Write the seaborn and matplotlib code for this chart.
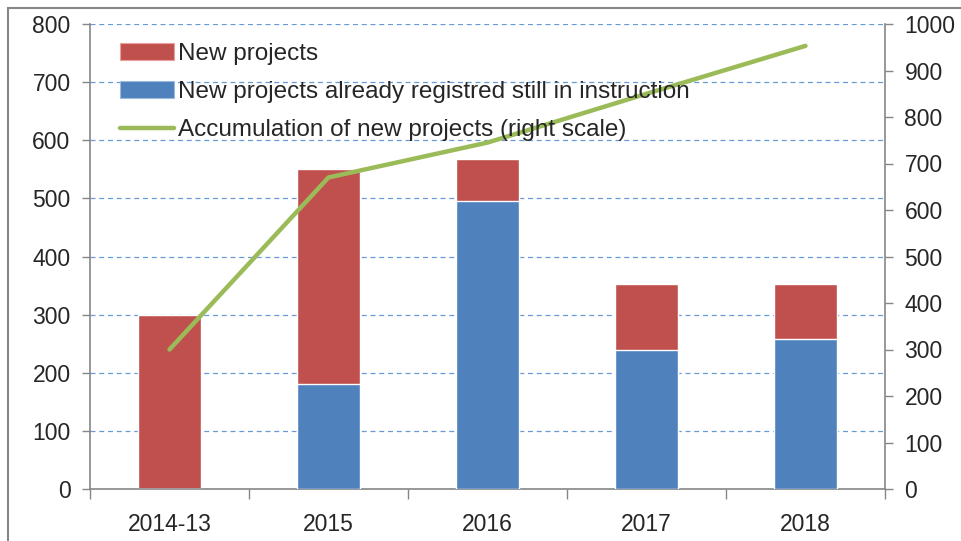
import numpy as np
import pandas as pd
import matplotlib
matplotlib.use("Agg")
import matplotlib.pyplot as plt
from matplotlib.patches import Rectangle, Patch
from matplotlib.lines import Line2D
import seaborn as sns

# ---------------------------
# Data
# ---------------------------
years = ["2014-13", "2015", "2016", "2017", "2018"]
registered = [0, 180, 495, 240, 258]          # blue, bottom part
total_new = [300, 550, 568, 352, 352]         # red top = total bar height
accumulation = [300, 670, 745, 850, 953]      # right scale

RED = "#C0504D"
BLUE = "#4F81BD"
GREEN = "#9BBB59"
GRAY = "#868686"

sns.set_style("white")
plt.rcParams["font.family"] = ["Liberation Sans", "DejaVu Sans"]

df = pd.DataFrame({"year": years, "registered": registered, "total": total_new})

fig = plt.figure(figsize=(9.61, 5.41), dpi=100)
ax1 = fig.add_axes([90 / 961, 1 - 489 / 541, (885 - 90) / 961, (489 - 24) / 541])

# stacked bars: full height in red, blue part drawn on top of it
sns.barplot(data=df, x="year", y="total", color=RED, width=0.4,
            saturation=1, ax=ax1, zorder=2)
sns.barplot(data=df, x="year", y="registered", color=BLUE, width=0.4,
            saturation=1, ax=ax1, zorder=3)

ax1.set_ylim(0, 800)
ax1.set_xlim(-0.5, len(years) - 0.5)
ax1.set_yticks(range(0, 801, 100))
ax1.set_xlabel("")
ax1.set_ylabel("")
ax1.yaxis.grid(True, color="#6A9AD6", linestyle=(0, (4, 3)), linewidth=0.9)
ax1.set_axisbelow(True)

# category boundary ticks, labels in between
ax1.set_xticks(np.arange(-0.5, len(years), 1.0), minor=False)
ax1.set_xticklabels([])
ax1.set_xticks(range(len(years)), minor=True)
ax1.set_xticklabels(years, minor=True, fontsize=16.5, color="#262626")
ax1.tick_params(axis="x", which="major", direction="out", length=7,
                color=GRAY, width=1, bottom=True)
ax1.tick_params(axis="x", which="minor", length=0, pad=17)
ax1.tick_params(axis="y", direction="out", length=6, color=GRAY,
                width=1, labelsize=16.5, labelcolor="#262626", left=True, pad=8)

for s in ["top", "right"]:
    ax1.spines[s].set_visible(False)
for s in ["left", "bottom"]:
    ax1.spines[s].set_color(GRAY)
    ax1.spines[s].set_linewidth(1.2)

# cumulated line on right scale
ax2 = ax1.twinx()
sns.lineplot(x=np.arange(len(years)), y=accumulation, color=GREEN,
             linewidth=3.2, ax=ax2, zorder=4)
ax2.set_ylim(0, 1000)
ax2.set_yticks(range(0, 1001, 100))
ax2.tick_params(axis="y", direction="out", length=6, color=GRAY,
                width=1, labelsize=16.5, labelcolor="#262626", right=True, pad=8)
for s in ["top", "left", "bottom"]:
    ax2.spines[s].set_visible(False)
ax2.spines["right"].set_color(GRAY)
ax2.spines["right"].set_linewidth(1.2)

# legend
handles = [
    Patch(facecolor=RED, edgecolor="#E8A09E", linewidth=0.8),
    Patch(facecolor=BLUE, edgecolor="#9DB9DD", linewidth=0.8),
    Line2D([0], [0], color=GREEN, linewidth=3.2, solid_capstyle="round"),
]
labels = [
    "New projects",
    "New projects already registred still in instruction",
    "Accumulation of new projects (right scale)",
]
ax2.legend(handles, labels, loc="upper left", bbox_to_anchor=(0.02, 0.99),
           frameon=False, fontsize=17.5, handlelength=2.2, handleheight=0.7,
           handletextpad=0.15, labelspacing=0.66, borderaxespad=0.2)

# outer chart border
fig.add_artist(Rectangle((8 / 961, -0.1), 1.2, 1 - 8 / 541 + 0.1,
                         transform=fig.transFigure, fill=False,
                         edgecolor=GRAY, linewidth=1.5))

fig.savefig("out.png", dpi=100)
